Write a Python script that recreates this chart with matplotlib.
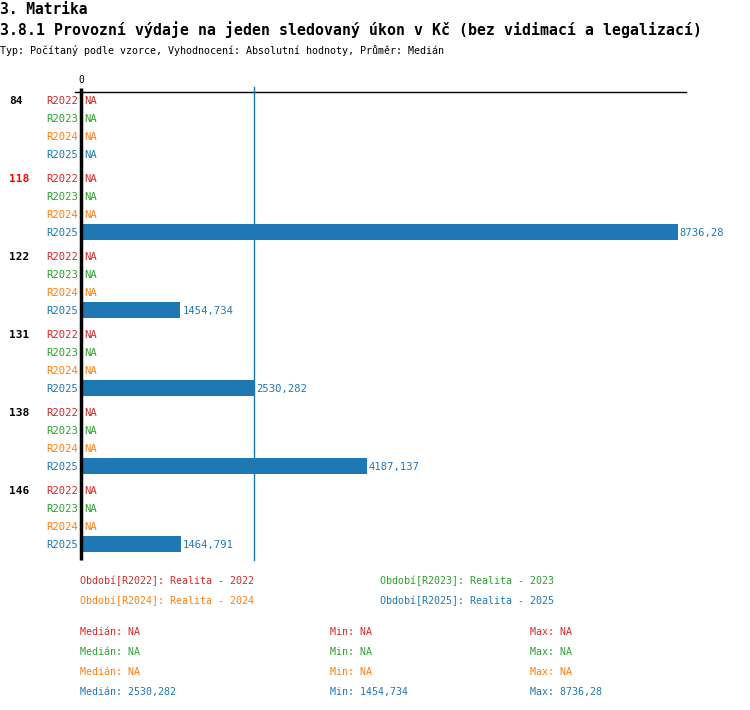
import numpy as np
import matplotlib.pyplot as plt

plt.rcParams['font.family'] = ['DejaVu Sans Mono']

W, H = 750, 710

title_main = "3. Matrika"
title_sub = "3.8.1 Provozní výdaje na jeden sledovaný úkon v Kč (bez vidimací a legalizací)"
subtitle = "Typ: Počítaný podle vzorce, Vyhodnocení: Absolutní hodnoty, Průměr: Medián"

groups = ["84", "118", "122", "131", "138", "146"]
group_colors = ["black", "#ff0000", "black", "black", "black", "black"]
series = ["R2022", "R2023", "R2024", "R2025"]
series_colors = ["#d62728", "#2ca02c", "#ff7f0e", "#1f77b4"]
series_names = ["Realita - 2022", "Realita - 2023", "Realita - 2024", "Realita - 2025"]

# hodnoty pro každou skupinu (None = NA)
values_r2022 = [None, None, None, None, None, None]
values_r2023 = [None, None, None, None, None, None]
values_r2024 = [None, None, None, None, None, None]
values_r2025 = [None, 8736.28, 1454.734, 2530.282, 4187.137, 1464.791]
values = [values_r2022, values_r2023, values_r2024, values_r2025]

stats_median = ["NA", "NA", "NA", "2530,282"]
stats_min = ["NA", "NA", "NA", "1454,734"]
stats_max = ["NA", "NA", "NA", "8736,28"]
median_value = 2530.282


def fmt(v):
    s = f"{v:.3f}".rstrip('0').rstrip('.')
    return s.replace('.', ',')


fig = plt.figure(figsize=(W / 100, H / 100), dpi=100)

# osy v pixelech: x 81..686, y 92..560
ax_l, ax_r, ax_t, ax_b = 81, 686, 92, 560
ax = fig.add_axes([ax_l / W, 1 - ax_b / H, (ax_r - ax_l) / W, (ax_b - ax_t) / H])
px_per_unit = 0.0683
xmax = (ax_r - ax_l) / px_per_unit
row = 18.0
gstep = 78.0 / row
ax.set_xlim(0, xmax)
ax.set_ylim(25.556, -0.444)
ax.axis('off')

dy = 1 / row  # drobný posun textu dolů
for g, gname in enumerate(groups):
    for r, sname in enumerate(series):
        y = g * gstep + r
        v = values[r][g]
        col = series_colors[r]
        ax.text(-3 / px_per_unit, y + dy, sname, color=col, fontsize=7.6,
                ha='right', va='center')
        if v is None:
            ax.text(3 / px_per_unit, y + dy, "NA", color=col, fontsize=7.6,
                    ha='left', va='center')
        else:
            ax.barh(y, v, height=16 / row, color=col, left=0)
            ax.text(v + 2 / px_per_unit, y + dy, fmt(v), color=col, fontsize=7.6,
                    ha='left', va='center')
    ax.text(-72 / px_per_unit, g * gstep + dy, gname, color=group_colors[g],
            fontsize=8, fontweight='bold', ha='left', va='center')

# osa nula, horní linka, medián
ax.plot([0, 0], [25.556, -0.444 - 4 / row], color='black', lw=2.5,
        clip_on=False, solid_capstyle='butt')
ax.plot([-6 / px_per_unit, xmax], [-0.444, -0.444], color='black', lw=1,
        clip_on=False)
ax.plot([median_value, median_value], [25.556, -0.444 - 5 / row],
        color='#1f77b4', lw=1, clip_on=False)
ax.text(0, -0.444 - 7 / row, "0", fontsize=7, ha='center', va='bottom')

# nadpisy
fig.text(0, 1 - 9 / H, title_main, fontsize=10.5, fontweight='bold', va='center')
fig.text(0, 1 - 30 / H, title_sub, fontsize=10.75, fontweight='bold', va='center')
fig.text(0, 1 - 50 / H, subtitle, fontsize=7.2, va='center')

# legenda
leg_pos = [(80, 581), (380, 581), (80, 601), (380, 601)]
for i, (x, y) in enumerate(leg_pos):
    fig.text(x / W, 1 - y / H, f"Období[{series[i]}]: {series_names[i]}",
             color=series_colors[i], fontsize=7.2, va='center')

# statistiky
for i in range(4):
    y = 632 + i * 20
    c = series_colors[i]
    fig.text(80 / W, 1 - y / H, f"Medián: {stats_median[i]}", color=c, fontsize=7.2, va='center')
    fig.text(330 / W, 1 - y / H, f"Min: {stats_min[i]}", color=c, fontsize=7.2, va='center')
    fig.text(530 / W, 1 - y / H, f"Max: {stats_max[i]}", color=c, fontsize=7.2, va='center')

fig.savefig("out.png", dpi=100)
